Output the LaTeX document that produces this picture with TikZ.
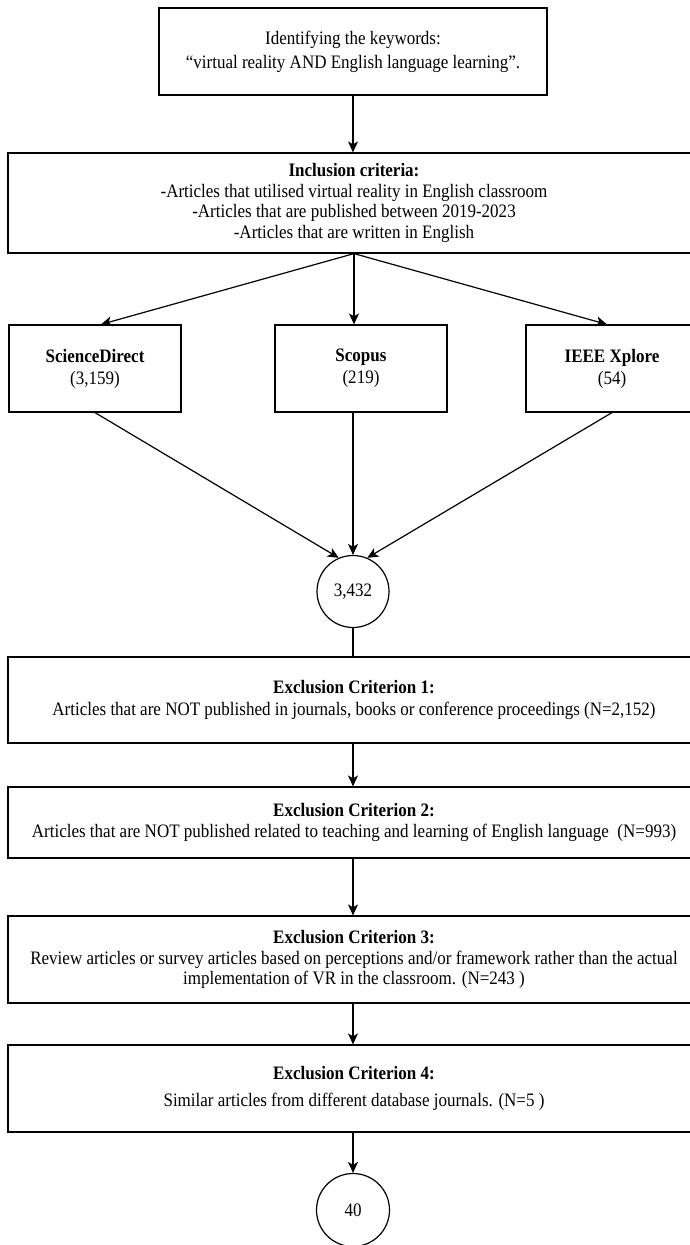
\documentclass[tikz,border=0pt]{standalone}
\usepackage{fontspec}
\setmainfont{Liberation Serif}[FakeStretch=0.895]
\usetikzlibrary{arrows.meta,calc}
\tikzset{
  boxnode/.style={draw=black, line width=1.2pt, rectangle, inner sep=0pt, align=center,
    font=\fontsize{19}{20.5}\selectfont},
  circnode/.style={draw=black, line width=1.2pt, circle, inner sep=0pt, minimum size=72pt,
    font=\fontsize{19}{20.5}\selectfont},
  conn/.style={draw=black, line width=1.2pt},
  arr/.style={conn, -{Stealth[length=11pt, width=10pt, inset=3pt]}}
}
\begin{document}
\begin{tikzpicture}[x=1pt, y=-1pt]
\useasboundingbox (0,0) rectangle (690,1245);
\fill[white] (0,0) rectangle (690,1245);
\clip (0,0) rectangle (690,1245);

\node[boxnode, minimum width=388pt, minimum height=87pt] (top) at (353,51.5)
  {Identifying the keywords:\\[3.5pt]``virtual reality AND English language learning''.};
\node[boxnode, minimum width=692pt, minimum height=100pt] (incl) at (354,203)
  {\textbf{Inclusion criteria:}\\-Articles that utilised virtual reality in English classroom\\-Articles that are published between 2019-2023\\-Articles that are written in English};
\node[boxnode, minimum width=172pt, minimum height=87pt] (sd) at (95,368.5)
  {\textbf{ScienceDirect}\\[1.5pt](3,159)};
\node[boxnode, minimum width=172pt, minimum height=87pt] (sc) at (361,368.5)
  {\textbf{Scopus}\\[1.5pt](219)};
\node[boxnode, minimum width=172pt, minimum height=87pt] (ie) at (612,368.5)
  {\textbf{IEEE Xplore}\\[1.5pt](54)};
\node[circnode] (c1) at (353,591.5) {3,432};
\node[boxnode, minimum width=692pt, minimum height=86pt] (e1) at (354,700)
  {\textbf{Exclusion Criterion 1:}\\[1.5pt]Articles that are NOT published in journals, books or conference proceedings (N=2,152)};
\node[boxnode, minimum width=692pt, minimum height=71pt] (e2) at (354,822.5)
  {\textbf{Exclusion Criterion 2:}\\[0.5pt]Articles that are NOT published related to teaching and learning of English language~~(N=993)};
\node[boxnode, minimum width=692pt, minimum height=87pt] (e3) at (354,959.5)
  {\textbf{Exclusion Criterion 3:}\\Review articles or survey articles based on perceptions and/or framework rather than the actual\\implementation of VR in the classroom. (N=243 )};
\node[boxnode, minimum width=692pt, minimum height=87pt] (e4) at (354,1088.5)
  {\textbf{Exclusion Criterion 4:}\\[6.5pt]Similar articles from different database journals. (N=5 )};
\node[circnode, minimum size=73pt] (c2) at (353,1210) {40};

\draw[arr] (top.south) -- (top.south |- incl.north);
\draw[arr] (incl.south) -- ($(sd.north)+(6,0)$);
\draw[arr] (incl.south) -- (incl.south |- sc.north);
\draw[arr] (incl.south) -- ($(ie.north)+(-5,0)$);
\draw[arr] (sd.south) -- (c1.113);
\draw[arr] (c1.north |- sc.south) -- (c1.north);
\draw[arr] (ie.south) -- (c1.67);
\draw[conn] (c1.south) -- (c1.south |- e1.north);
\draw[arr] (c1.south |- e1.south) -- (c1.south |- e2.north);
\draw[arr] (c1.south |- e2.south) -- (c1.south |- e3.north);
\draw[arr] (c1.south |- e3.south) -- (c1.south |- e4.north);
\draw[arr] (c1.south |- e4.south) -- (c2.north);
\end{tikzpicture}
\end{document}
